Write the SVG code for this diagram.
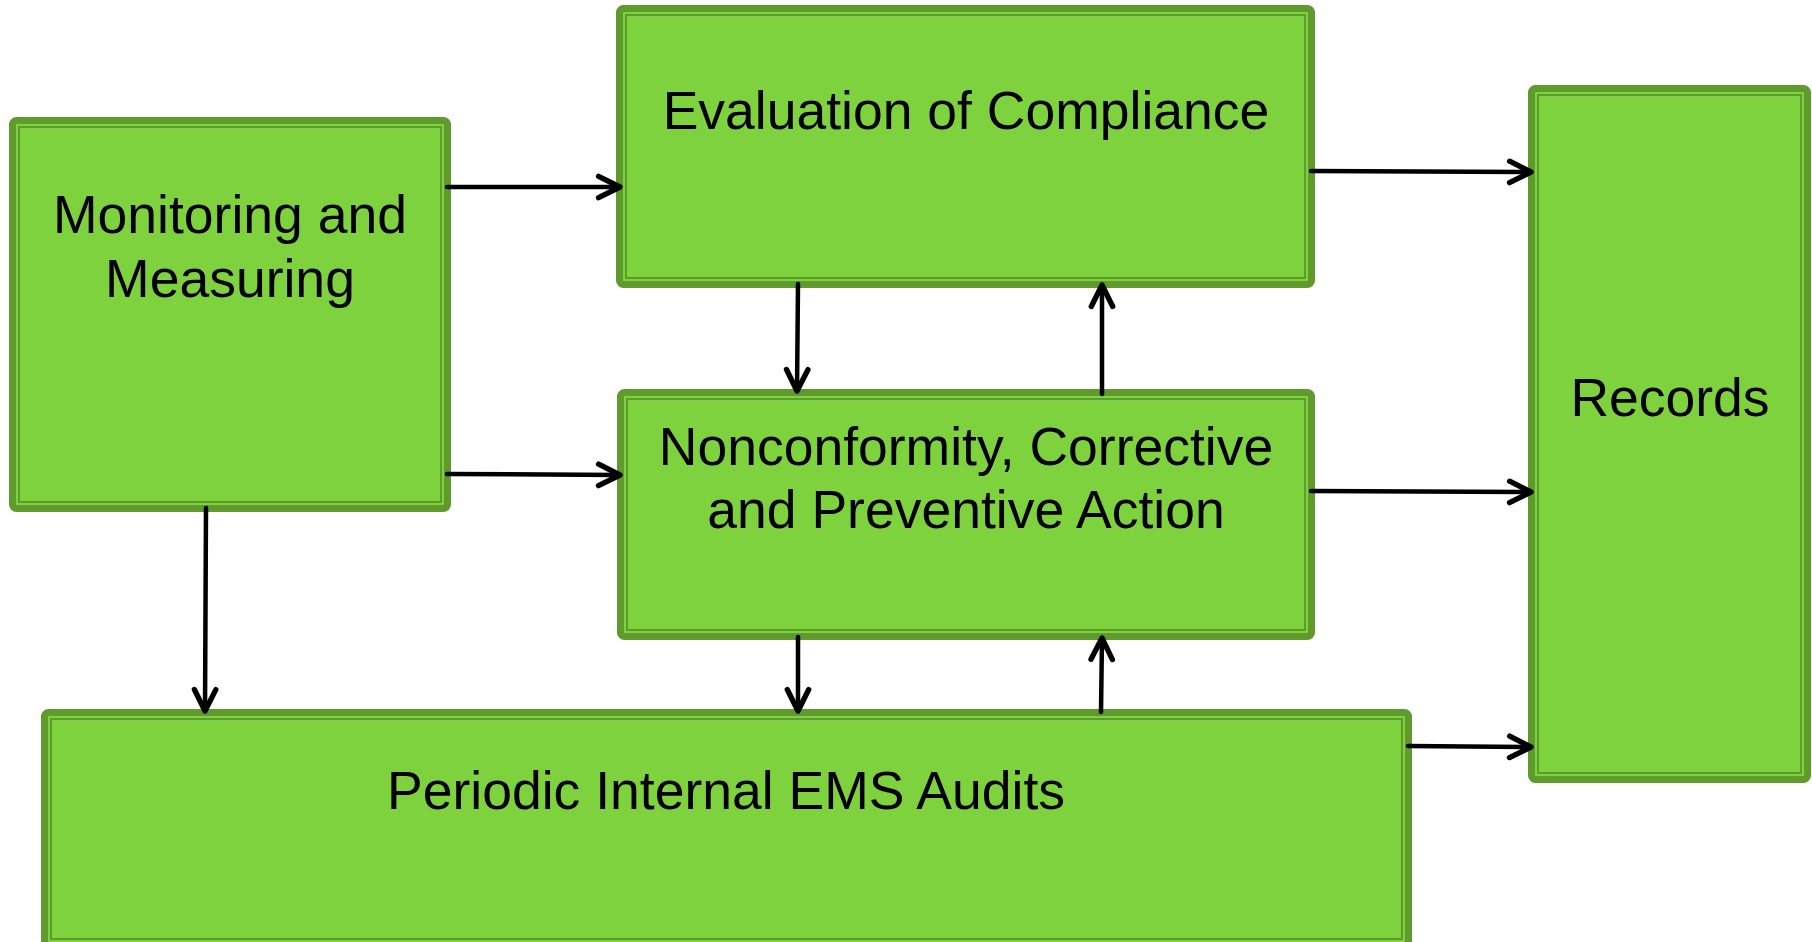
<svg xmlns="http://www.w3.org/2000/svg" width="1812" height="942" viewBox="0 0 1812 942">
<style>
.outer{fill:#7ed23e;stroke:#5f9a2d;stroke-width:7}
.inner{fill:none;stroke:#5f9a2d;stroke-width:2}
.lbl{font-family:"Liberation Sans",Arial,sans-serif;font-size:53.5px;fill:#000;text-anchor:middle}
.conn{stroke:#000;stroke-width:4.5;fill:none;stroke-linecap:round}
</style>
<defs>
<marker id="arr" markerUnits="userSpaceOnUse" markerWidth="30" markerHeight="30" viewBox="-24 -14 28 28" refX="0" refY="0" orient="auto">
<path d="M-20,-10 L0,0 L-20,10" fill="none" stroke="#000" stroke-width="5" stroke-linecap="round" stroke-linejoin="round"/>
</marker>
</defs>
<rect width="1812" height="942" fill="#fff"/>
<g id="monitoring">
<rect class="outer" x="12.5" y="120.5" width="435" height="388" rx="4"/>
<rect class="inner" x="19" y="127" width="422" height="375"/>
<text class="lbl" x="230" y="233">Monitoring and</text>
<text class="lbl" x="230" y="297">Measuring</text>
</g>
<g id="evaluation">
<rect class="outer" x="619.5" y="8.5" width="692" height="276" rx="4"/>
<rect class="inner" x="626" y="15" width="679" height="263"/>
<text class="lbl" x="966" y="129">Evaluation of Compliance</text>
</g>
<g id="nonconformity">
<rect class="outer" x="620.5" y="392.5" width="691" height="244" rx="4"/>
<rect class="inner" x="627" y="399" width="678" height="231"/>
<text class="lbl" x="966" y="465">Nonconformity, Corrective</text>
<text class="lbl" x="966" y="528">and Preventive Action</text>
</g>
<g id="periodic">
<rect class="outer" x="44.5" y="712.5" width="1364" height="240" rx="4"/>
<rect class="inner" x="51" y="719" width="1351" height="220"/>
<text class="lbl" x="726" y="809">Periodic Internal EMS Audits</text>
</g>
<g id="records">
<rect class="outer" x="1531.5" y="88.5" width="276" height="691" rx="4"/>
<rect class="inner" x="1538" y="95" width="263" height="678"/>
<text class="lbl" x="1670" y="416">Records</text>
</g>
<g id="connectors">
<line class="conn" x1="447" y1="187" x2="620" y2="187" marker-end="url(#arr)"/>
<line class="conn" x1="447" y1="474" x2="620" y2="475" marker-end="url(#arr)"/>
<line class="conn" x1="1311" y1="171" x2="1531" y2="172" marker-end="url(#arr)"/>
<line class="conn" x1="1311" y1="491" x2="1531" y2="492" marker-end="url(#arr)"/>
<line class="conn" x1="1408" y1="746" x2="1531" y2="747" marker-end="url(#arr)"/>
<line class="conn" x1="798" y1="284" x2="797" y2="391" marker-end="url(#arr)"/>
<line class="conn" x1="1102" y1="394" x2="1102" y2="285" marker-end="url(#arr)"/>
<line class="conn" x1="798" y1="637" x2="798" y2="711" marker-end="url(#arr)"/>
<line class="conn" x1="1101" y1="712" x2="1102" y2="638" marker-end="url(#arr)"/>
<line class="conn" x1="206" y1="508" x2="205" y2="711" marker-end="url(#arr)"/>
</g>
</svg>
